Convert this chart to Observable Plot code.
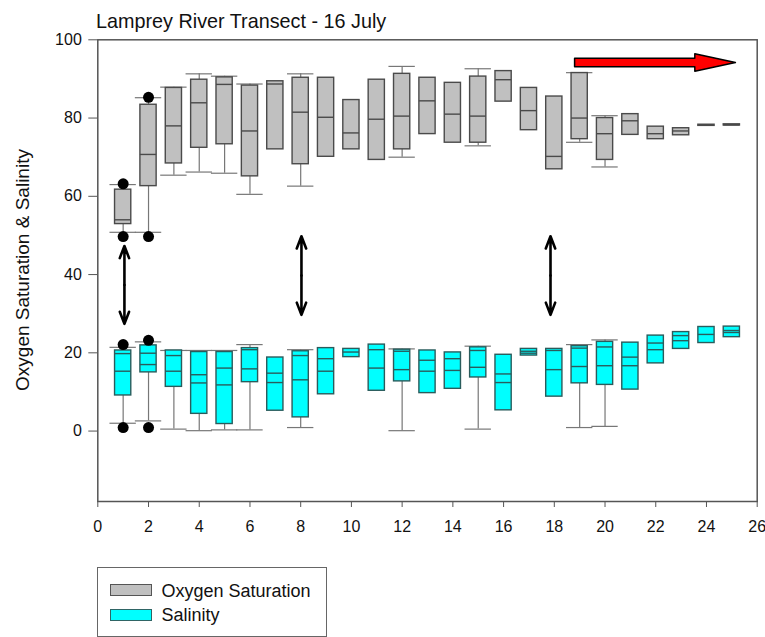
<!DOCTYPE html>
<html>
<head>
<meta charset="utf-8">
<script src="https://cdn.jsdelivr.net/npm/d3@7"></script>
<script src="https://cdn.jsdelivr.net/npm/@observablehq/plot@0.6"></script>
<style>
  body { margin: 0; background: #fff; font-family: "Liberation Sans", Arial, sans-serif; }
  #wrap { position: relative; width: 765px; height: 637px; overflow: hidden; background: #fff; }
  #chart { position: absolute; left: 0; top: 0; }
  #title { position: absolute; left: 96px; top: 11px; font-size: 19.8px; line-height: 20px; color: #111; white-space: nowrap; }
  #ylabel { position: absolute; left: 22px; top: 270px; font-size: 19px; line-height: 19px; color: #111; white-space: nowrap;
            transform: translate(-50%, -50%) rotate(-90deg); }
  #legend { position: absolute; left: 96.5px; top: 566.5px; width: 230.5px; height: 70px; border: 1.2px solid #666; box-sizing: border-box; }
  .sw { position: absolute; width: 42px; height: 12px; box-sizing: border-box; border: 1.2px solid #555; }
  .lt { position: absolute; font-size: 18px; line-height: 18px; color: #111; white-space: nowrap; }
</style>
</head>
<body>
<div id="wrap">
  <div id="chart"></div>
  <div id="title">Lamprey River Transect - 16 July</div>
  <div id="ylabel">Oxygen Saturation &amp; Salinity</div>
  <div id="legend"></div>
  <div class="sw" style="left:109.5px; top:584px; background:#c0c0c0;"></div>
  <div class="lt" style="left:161.5px; top:582px;">Oxygen Saturation</div>
  <div class="sw" style="left:109.5px; top:608.5px; background:#00ffff; border-color:#2f6565;"></div>
  <div class="lt" style="left:161.5px; top:606px;">Salinity</div>
</div>
<script>
// ---- data ----
const positions = [1,2,3,4,5,6,7,8,9,10,11,12,13,14,15,16,17,18,19,20,21,22,23,24,25];

// Oxygen saturation box statistics (null = no whisker drawn)
const oxyMin = [50.8,50.8,65.4,66.2,65.9,60.5,null,62.6,null,null,null,70.0,null,null,72.9,null,null,null,73.8,67.5,null,null,null,null,null];
const oxyQ1  = [52.9,62.6,68.4,72.4,73.3,65.1,72.0,68.2,70.1,72.0,69.3,72.0,75.9,73.7,73.7,84.2,76.9,66.9,74.6,69.3,75.7,74.6,75.6,78.0,78.1];
const oxyMed = [54.0,70.7,78.0,83.9,88.6,76.7,88.7,81.5,80.2,76.2,79.7,80.5,84.4,81.0,80.5,89.8,81.9,70.2,80.0,76.0,79.3,76.0,76.7,78.15,78.25];
const oxyQ3  = [61.7,83.4,87.7,89.8,90.4,88.3,89.4,90.3,90.3,84.6,89.8,91.3,90.3,89.0,90.6,92.0,87.7,85.5,91.5,80.0,81.0,77.8,77.4,78.3,78.4];
const oxyMax = [63.0,85.2,87.9,91.3,90.7,88.7,null,91.3,null,null,null,93.2,null,null,92.6,null,null,null,91.6,80.6,null,null,null,null,null];

// Salinity box statistics (two inner lines: median and mean)
const salMin   = [2.0,2.6,0.5,0.1,0.3,0.3,null,0.9,null,null,null,0.1,null,null,0.5,null,null,null,0.9,1.2,null,null,null,null,null];
const salQ1    = [9.1,15.0,11.3,4.4,1.8,12.5,5.2,3.5,9.4,18.9,10.3,12.7,9.7,10.8,13.7,5.3,19.3,8.8,12.2,11.8,10.6,17.3,21.0,22.5,24.0];
const salLine1 = [15.3,17.0,15.3,12.3,11.8,15.9,12.4,13.1,15.3,20.2,16.1,15.7,15.3,15.5,16.3,12.4,19.9,15.7,16.5,16.7,16.7,20.8,23.1,24.7,25.2];
const salLine2 = [19.8,19.9,19.3,14.4,16.1,20.8,14.8,19.3,18.5,null,20.8,20.4,18.1,18.5,20.6,14.6,20.4,20.6,21.2,21.5,18.9,22.5,24.4,null,25.7];
const salQ3    = [20.6,21.9,20.6,20.2,20.2,21.2,18.8,20.4,21.2,21.0,22.1,20.8,20.6,20.1,21.4,19.5,21.0,21.0,21.7,22.8,22.6,24.4,25.3,26.6,26.7];
const salMax   = [21.4,22.8,20.6,20.6,20.6,22.1,null,20.8,null,null,null,21.0,null,null,21.7,null,null,null,22.1,23.3,null,null,null,null,null];

// Outlier dots
const outlierPos = [1, 1, 1, 1, 2, 2, 2, 2];
const outlierVal = [63.2, 49.7, 22.1, 0.9, 85.3, 49.7, 23.2, 0.9];

// Double-headed arrows between the two groups
const dArrowPos    = [1.05, 8.03, 17.85];
const dArrowTop    = [47.3, 49.8, 49.8];
const dArrowBottom = [27.4, 29.7, 29.7];

// Red arrow (start, tip, level)
const redArrowStart = 18.8;
const redArrowTip = 25.14;
const redArrowLevel = 94.2;

const xTicks = [0,2,4,6,8,10,12,14,16,18,20,22,24,26];
const yTicks = [0,20,40,60,80,100];

// ---- build tables ----
const oxy = positions.map((p, i) => ({pos: p, min: oxyMin[i], q1: oxyQ1[i], med: oxyMed[i], q3: oxyQ3[i], max: oxyMax[i]}));
const sal = positions.map((p, i) => ({pos: p, min: salMin[i], q1: salQ1[i], l1: salLine1[i], l2: salLine2[i], q3: salQ3[i], max: salMax[i]}));
const outliers = outlierPos.map((p, i) => ({pos: p, v: outlierVal[i]}));
const dArrows = [];
dArrowPos.forEach((p, i) => {
  const mid = (dArrowTop[i] + dArrowBottom[i]) / 2;
  dArrows.push({x: p, y1: mid, y2: dArrowTop[i]});
  dArrows.push({x: p, y1: mid, y2: dArrowBottom[i]});
});
// block-arrow outline (shape sizes in data units)
const shaftHalf = 1.07, headHalf = 2.22, headLen = 1.6;
const headBase = redArrowTip - headLen;
const redArrow = [
  {x: redArrowStart, y: redArrowLevel + shaftHalf},
  {x: headBase, y: redArrowLevel + shaftHalf},
  {x: headBase, y: redArrowLevel + headHalf},
  {x: redArrowTip, y: redArrowLevel},
  {x: headBase, y: redArrowLevel - headHalf},
  {x: headBase, y: redArrowLevel - shaftHalf},
  {x: redArrowStart, y: redArrowLevel - shaftHalf},
  {x: redArrowStart, y: redArrowLevel + shaftHalf}
];

const boxHalf = 0.32, capHalf = 0.52;

function boxMarks(rows, fill, stroke, lineKeys, whisk) {
  const w = rows.filter(d => d.max != null);
  const wl = rows.filter(d => d.min != null);
  const marks = [
    Plot.ruleX(w, {x: "pos", y1: "q3", y2: "max", stroke: whisk, strokeWidth: 1.2}),
    Plot.ruleX(wl, {x: "pos", y1: "min", y2: "q1", stroke: whisk, strokeWidth: 1.2}),
    Plot.ruleY(w, {y: "max", x1: d => d.pos - capHalf, x2: d => d.pos + capHalf, stroke: whisk, strokeWidth: 1.2}),
    Plot.ruleY(wl, {y: "min", x1: d => d.pos - capHalf, x2: d => d.pos + capHalf, stroke: whisk, strokeWidth: 1.2}),
    Plot.rect(rows, {x1: d => d.pos - boxHalf, x2: d => d.pos + boxHalf, y1: "q1", y2: "q3", fill, stroke, strokeWidth: 1.4})
  ];
  for (const k of lineKeys) {
    marks.push(Plot.ruleY(rows.filter(d => d[k] != null), {y: k, x1: d => d.pos - boxHalf, x2: d => d.pos + boxHalf, stroke, strokeWidth: 1.4}));
  }
  return marks;
}

const chart = Plot.plot({
  width: 765,
  height: 545,
  marginLeft: 97.3,
  marginRight: 8.3,
  marginTop: 39.3,
  marginBottom: 44,
  style: {fontFamily: "'Liberation Sans', Arial, sans-serif", fontSize: "16px", color: "#111", background: "white", overflow: "visible"},
  x: {domain: [0, 26]},
  y: {domain: [-18, 100]},
  marks: [
    Plot.axisX({ticks: xTicks, tickSize: 6, tickPadding: 13, stroke: "#555", fill: "#111", fontSize: 16, label: null}),
    Plot.axisY({ticks: yTicks, tickSize: 9, tickPadding: 7, stroke: "#555", fill: "#111", fontSize: 16, label: null}),
    ...boxMarks(oxy, "#c0c0c0", "#4a4a4a", ["med"], "#777"),
    ...boxMarks(sal, "#00ffff", "#2a5c5c", ["l1", "l2"], "#777"),
    Plot.dot(outliers, {x: "pos", y: "v", r: 5.5, fill: "black", stroke: "none"}),
    Plot.arrow(dArrows, {x1: "x", x2: "x", y1: "y1", y2: "y2", bend: 0, headLength: 17, headAngle: 42, stroke: "black", strokeWidth: 2.6}),
    Plot.line(redArrow, {x: "x", y: "y", fill: "red", stroke: "black", strokeWidth: 1.5, curve: "linear"}),
    Plot.frame({stroke: "#555", strokeWidth: 1.5})
  ]
});
document.getElementById("chart").appendChild(chart);
</script>
</body>
</html>
